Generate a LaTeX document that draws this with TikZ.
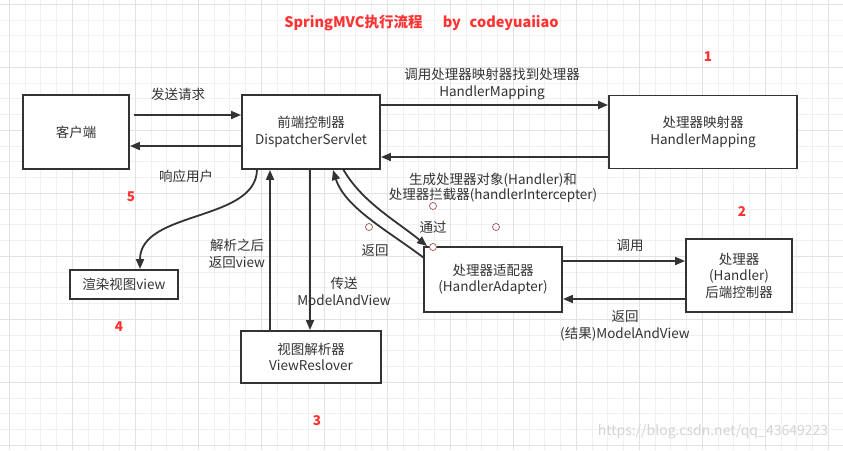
\documentclass[tikz,border=0pt]{standalone}
\usepackage{fontspec}
\setmainfont{Noto Sans CJK SC}
\usetikzlibrary{arrows.meta}
\definecolor{ink}{HTML}{333333}
\definecolor{txt}{HTML}{333333}
\definecolor{redtxt}{HTML}{FF3333}
\definecolor{gridminor}{HTML}{F0F0F0}
\definecolor{gridmajor}{HTML}{E2E2E2}
\definecolor{hint}{HTML}{A05050}
\definecolor{wm}{HTML}{D4D4D4}
\tikzset{
  box/.style={draw=ink, line width=1.9pt, fill=white, align=center, text=txt, inner sep=0pt,
    font=\fontsize{13.5}{16.5}\selectfont},
  lbl/.style={align=center, text=txt, inner sep=0pt, font=\fontsize{13.5}{16.5}\selectfont},
  num/.style={text=redtxt, inner sep=0pt, font=\fontsize{13.5}{16}\selectfont\bfseries},
  conn/.style={draw=ink, line width=1.8pt, -{Triangle[length=10pt,width=8pt]}},
  hintc/.style={draw=hint, line width=0.7pt, fill=white, circle, minimum size=7pt, inner sep=0pt},
}
\begin{document}
\begin{tikzpicture}[x=1pt,y=-1pt]
\useasboundingbox (0,0) rectangle (843,450);
\fill[white] (0,0) rectangle (843,450);
% grid
\foreach \k in {0,...,52} \draw[gridminor, line width=0.8pt] ({9.3+15.75*\k},0) -- ({9.3+15.75*\k},450);
\foreach \k in {0,...,28} \draw[gridminor, line width=0.8pt] (0,{4.3+15.75*\k}) -- (843,{4.3+15.75*\k});
\foreach \k in {0,...,13} \draw[gridmajor, line width=0.8pt] ({9.3+63*\k},0) -- ({9.3+63*\k},450);
\foreach \k in {0,...,7} \draw[gridmajor, line width=0.8pt] (0,{4.3+63*\k}) -- (843,{4.3+63*\k});

% title
\node[text=redtxt, inner sep=0pt, font=\fontsize{14.5}{17}\selectfont\bfseries] (title) at (421.5,23) {SpringMVC执行流程\hspace{1.4em}by\hspace{0.6em}codeyuaiiao};

% boxes
\node[box, minimum width=106pt, minimum height=74pt] (client) at (76,132) {客户端};
\node[box, minimum width=138pt, minimum height=74pt] (ds) at (311,132) {前端控制器\\DispatcherServlet};
\node[box, minimum width=188pt, minimum height=73pt] (hm) at (703,132) {处理器映射器\\HandlerMapping};
\node[box, minimum width=138pt, minimum height=65pt] (ha) at (493,279.5) {处理器适配器\\(HandlerAdapter)};
\node[box, minimum width=106pt, minimum height=73pt] (hd) at (739,275.5) {处理器\\(Handler)\\后端控制器};
\node[box, minimum width=108pt, minimum height=29pt] (rv) at (124,284.5) {渲染视图view};
\node[box, minimum width=140pt, minimum height=52pt] (vr) at (311,357) {视图解析器\\ViewReslover};

% straight connectors
\coordinate (reqStart) at (134,115);
\draw[conn] (reqStart) -- (ds.west |- 0,115);
\draw[conn] (ds.west |- 0,146) -- (client.east |- 0,146);
\draw[conn] (ds.east |- 0,105) -- (hm.west |- 0,105);
\draw[conn] (hm.west |- 0,157) -- (ds.east |- 0,157);
\draw[conn] (ha.east |- 0,261) -- (hd.west |- 0,261);
\draw[conn] (hd.west |- 0,299) -- (ha.east |- 0,299);
\draw[conn] (vr.north -| 270,0) -- (ds.south -| 270,0);
\draw[conn] (ds.south -| 310,0) -- (vr.north -| 310,0);

% curved connectors
\coordinate (dsA) at (257,169);
\coordinate (dsB) at (343,169);
\coordinate (dsC) at (333,170);
\coordinate (haA) at (427,246);
\coordinate (haB) at (424,258);
\draw[conn] (dsA) .. controls (257,222) and (140,210) .. (rv.north -| 140,0);
\draw[conn] (dsB) .. controls (362,202) and (395,220) .. (haA);
\draw[conn] (haB) .. controls (390,232) and (345,208) .. (dsC);

% hint circles
\node[hintc] (h1) at (369,227) {};
\node[hintc] (h2) at (433,206) {};
\node[hintc] (h3) at (496,227) {};
\node[hintc] (h4) at (433,247) {};

% labels
\node[lbl] (l1) at (178,94) {发送请求};
\node[lbl] (l2) at (186,176) {响应用户};
\node[lbl] (l3) at (492,84) {调用处理器映射器找到处理器\\HandlerMapping};
\node[lbl, font=\fontsize{13.5}{15}\selectfont] (l4) at (493,187.5) {生成处理器对象(Handler)和\\处理器拦截器(handlerIntercepter)};
\node[lbl] (l5) at (433,227) {通过};
\node[lbl] (l6) at (375,250) {返回};
\node[lbl] (l7) at (630,246) {调用};
\node[lbl] (l8) at (625,326) {返回\\(结果)ModelAndView};
\node[lbl] (l9) at (237,254) {解析之后\\返回view};
\node[lbl] (l10) at (344,291.5) {传送\\ModelAndView};

% numbers
\node[num] (n1) at (708,57) {1};
\node[num] (n2) at (742,212) {2};
\node[num] (n3) at (317,421) {3};
\node[num] (n4) at (119,327) {4};
\node[num] (n5) at (131,197) {5};

% watermark
\node[text=wm, inner sep=0pt, font=\fontsize{14}{16}\selectfont] (wmk) at (713,432) {https://blog.csdn.net/qq\_43649223};
\end{tikzpicture}
\end{document}
